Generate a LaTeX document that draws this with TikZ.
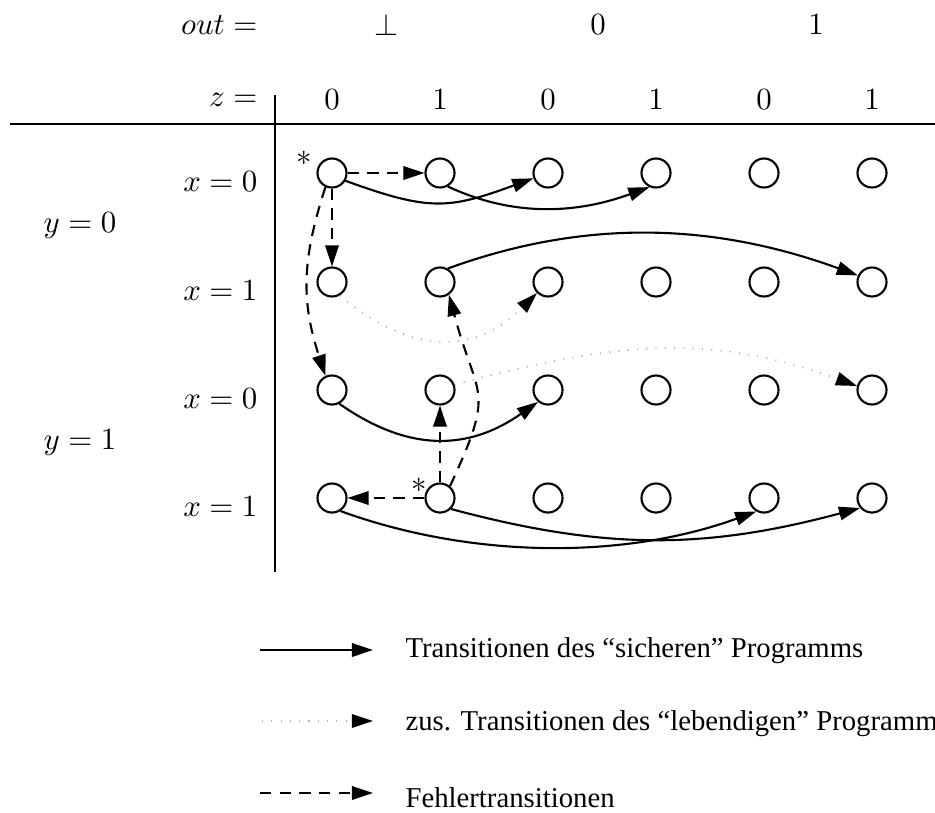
\documentclass[tikz,border=0pt]{standalone}
\usepackage{fontspec}
\setmainfont{Liberation Serif}
\usetikzlibrary{arrows.meta}

\begin{document}
\begin{tikzpicture}[x=0.355pt,y=0.355pt,
  st/.style={circle,draw,line width=0.75pt,minimum size=10.3pt,inner sep=0pt},
  tip/.style={-{Triangle[length=7.5pt,width=4.8pt]}},
  safe/.style={tip,line width=0.75pt},
  live/.style={-{Triangle[length=7.5pt,width=4.8pt,color=black]},draw=black!30,
    line width=0.6pt,dash pattern=on 0.4pt off 2.9pt},
  fault/.style={tip,line width=0.75pt,dash pattern=on 4pt off 3pt},
  hdr/.style={inner sep=0pt,font=\fontsize{10.6}{13}\selectfont},
  lgd/.style={anchor=base west,inner sep=0pt,font=\fontsize{10.2}{12}\selectfont}
]
\useasboundingbox (0,0) rectangle (935,-812);

% table frame
\coordinate (hl) at (10,-124);
\coordinate (hr) at (935,-124);
\coordinate (vt) at (275,-95);
\coordinate (vb) at (275,-572);
\draw[line width=0.9pt] (hl) -- (hr);
\draw[line width=0.8pt] (vt) -- (vb);

% header rows
\node[hdr,anchor=east] (outlbl) at (258,-25) {$out =$};
\node[hdr] (o1) at (386,-25) {$\bot$};
\node[hdr] (o2) at (598,-25) {$0$};
\node[hdr] (o3) at (816,-25) {$1$};
\node[hdr,anchor=east] (zlbl) at (258,-100) {$z =$};
\foreach \c/\xx/\v in {1/332/0,2/440/1,3/548/0,4/656/1,5/764/0,6/872/1}
  \node[hdr] (z\c) at (\xx,-100) {$\v$};

% row labels
\node[hdr,anchor=east] (x1) at (258,-182) {$x = 0$};
\node[hdr,anchor=east] (x2) at (258,-291) {$x = 1$};
\node[hdr,anchor=east] (x3) at (258,-399) {$x = 0$};
\node[hdr,anchor=east] (x4) at (258,-507) {$x = 1$};
\node[hdr] (y0) at (80,-226) {$y = 0$};
\node[hdr] (y1) at (80,-443) {$y = 1$};

% states
\foreach \r/\yy in {1/173,2/282,3/390,4/498}
  \foreach \c/\xx in {1/332,2/440,3/548,4/656,5/764,6/872}
    \node[st] (n\r\c) at (\xx,-\yy) {};

% initial-state marks
\node[hdr] (s1) at (304,-158) {$\ast$};
\node[hdr] (s2) at (419,-485) {$\ast$};

% transitions of the safe program
\draw[safe] (n11.-30) .. controls +(-20:90) and +(-160:90) .. (n13.-160);
\draw[safe] (n12.-60) .. controls +(-25:75) and +(-160:75) .. (n14.-115);
\draw[safe] (n22.60) .. controls +(20:150) and +(160:150) .. (n26.155);
\draw[safe] (n31.-62) .. controls +(-35:85) and +(-145:85) .. (n33.-130);
\draw[safe] (n41.-57) .. controls +(-20:140) and +(-160:140) .. (n45.-120);
\draw[safe] (n42.-45) .. controls +(-15:160) and +(-165:160) .. (n46.-140);

% additional transitions of the live program
\draw[live] (n21.-60) .. controls +(-40:90) and +(-135:90) .. (n23.-135);
\draw[live] (n32.20) .. controls +(15:160) and +(160:160) .. (n36.165);

% fault transitions
\draw[fault] (n11) -- (n12);
\draw[fault] (n11) -- (n21);
\draw[fault] (n11.-115) .. controls +(-108:78) and +(108:78) .. (n31.115);
\draw[fault] (n42) -- (n41);
\draw[fault] (n42) -- (n32);
\draw[fault] (n42.50) .. controls +(65:110) and +(-75:110) .. (n22.-55);

% legend
\coordinate (la1) at (260,-650);
\coordinate (lb1) at (373,-650);
\coordinate (la2) at (262,-721);
\coordinate (lb2) at (373,-721);
\coordinate (la3) at (260,-793);
\coordinate (lb3) at (373,-793);
\draw[safe] (la1) -- (lb1);
\draw[live] (la2) -- (lb2);
\draw[fault] (la3) -- (lb3);
\node[lgd] (t1) at (405,-657) {Transitionen des “sicheren” Programms};
\node[lgd] (t2) at (405,-730) {zus. Transitionen des “lebendigen” Programm};
\node[lgd] (t3) at (405,-807) {Fehlertransitionen};
\end{tikzpicture}
\end{document}
